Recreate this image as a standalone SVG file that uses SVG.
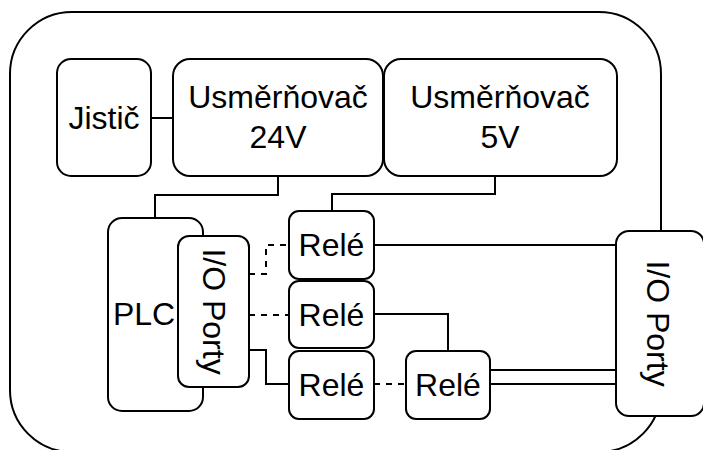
<svg xmlns="http://www.w3.org/2000/svg" width="703" height="450" viewBox="0 0 703 450">
<style>
.b{fill:#fff;stroke:#000;stroke-width:2}
.o{fill:none;stroke:#000;stroke-width:2}
.c{fill:none;stroke:#000;stroke-width:2}
.d{stroke-dasharray:6 6}
text{font-family:"Liberation Sans",Arial,sans-serif;font-size:32px;fill:#000;text-anchor:middle}
</style>
<rect width="703" height="450" fill="#fff"/>
<g id="enclosure"><rect class="o" x="10" y="12" width="651" height="440" rx="62" ry="62"/></g>
<g id="connectors">
<path class="c" d="M151 118H173"/>
<path class="c" d="M278 176V195H155V218"/>
<path class="c" d="M495 176V194H332V211"/>
<path class="c d" d="M249 274H266V245H289"/>
<path class="c d" d="M249 315H289"/>
<path class="c" d="M249 350H266V384H289"/>
<path class="c d" d="M374 384H406"/>
<path class="c" d="M374 245H616"/>
<path class="c" d="M374 314H448V351"/>
<path class="c" d="M490 370H616M490 384H616"/>
</g>
<g id="jistic"><rect class="b" x="57" y="59" width="94" height="117" rx="14"/><text x="104" y="129">Jistič</text></g>
<g id="usmernovac24"><rect class="b" x="173" y="59" width="210" height="117" rx="17"/><text x="278" y="108">Usměrňovač</text><text x="278" y="148">24V</text></g>
<g id="usmernovac5"><rect class="b" x="384" y="59" width="233" height="117" rx="17"/><text x="500" y="108">Usměrňovač</text><text x="500" y="148">5V</text></g>
<g id="plc"><rect class="b" x="108" y="218" width="95" height="193" rx="14"/><text x="144" y="325">PLC</text></g>
<g id="io-left"><rect class="b" x="178" y="236" width="71" height="151" rx="11"/><text transform="translate(213.5 311.5) rotate(90)" x="0" y="11">I/O Porty</text></g>
<g id="rele1"><rect class="b" x="289" y="211" width="85" height="68" rx="10"/><text x="331.5" y="256">Relé</text></g>
<g id="rele2"><rect class="b" x="289" y="281" width="85" height="67" rx="10"/><text x="331.5" y="326">Relé</text></g>
<g id="rele3"><rect class="b" x="289" y="351" width="85" height="68" rx="10"/><text x="331.5" y="396">Relé</text></g>
<g id="rele4"><rect class="b" x="406" y="351" width="84" height="68" rx="10"/><text x="448" y="396">Relé</text></g>
<g id="io-right"><rect class="b" x="616" y="231" width="88" height="185" rx="13"/><text transform="translate(658 323.5) rotate(90)" x="0" y="11">I/O Porty</text></g>
</svg>
